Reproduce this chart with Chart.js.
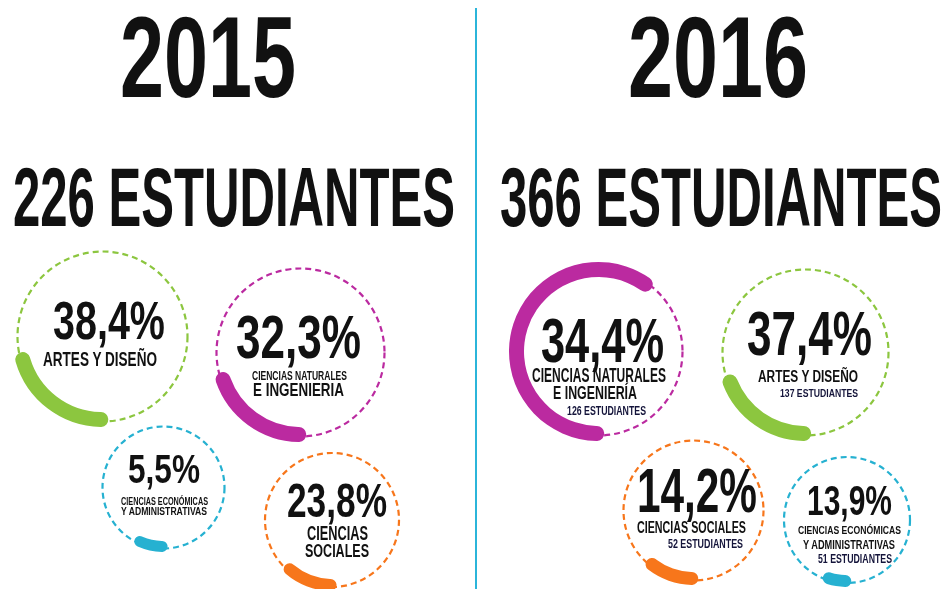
<!DOCTYPE html>
<html lang="es">
<head>
  <meta charset="UTF-8">
  <title>Estudiantes 2015 - 2016</title>
  <script src="https://cdn.jsdelivr.net/npm/chart.js"></script>
  <style>
    html, body { margin: 0; padding: 0; background: #fff; }
    #stage { position: relative; width: 948px; height: 589px; overflow: hidden; }
    .txt { position: absolute; white-space: nowrap; font-family: "Liberation Sans", Arial, sans-serif; font-weight: bold; color: #111; transform-origin: 0 0; }
    .ring { position: absolute; }
    #divider { position: absolute; left: 475px; top: 8px; width: 2px; height: 581px; background: #2bb5da; }
  </style>
</head>
<body>
<div id="stage"><div id="divider"></div></div>

<script>
  const years = ['2015', '2016'];
  const totalStudents = [226, 366];

  const areas2015 = [['ARTES Y DISEÑO'], ['CIENCIAS NATURALES', 'E INGENIERIA'], ['CIENCIAS ECONÓMICAS', 'Y ADMINISTRATIVAS'], ['CIENCIAS', 'SOCIALES']];
  const pct2015 = [38.4, 32.3, 5.5, 23.8];
  const arcDeg2015 = [83, 80, 33, 50];   // length of the drawn arc, degrees

  const areas2016 = [['CIENCIAS NATURALES', 'E INGENIERÍA'], ['ARTES Y DISEÑO'], ['CIENCIAS SOCIALES'], ['CIENCIAS ECONÓMICAS', 'Y ADMINISTRATIVAS']];
  const pct2016 = [34.4, 37.4, 14.2, 13.9];
  const students2016 = [126, 137, 52, 51];
  const arcDeg2016 = [224, 78, 47, 27];

  // layout (positions / sizes / colours)
  const GREEN = '#8cc63f', MAGENTA = '#bb2aa0', CYAN = '#26b1d1', ORANGE = '#f7761b';
  const headLayout = [
    { year: { cx: 208, top: 18, h: 80, w: 176 }, total: { cx: 234, top: 168, h: 59, w: 442 } },
    { year: { cx: 718, top: 18, h: 80, w: 180 }, total: { cx: 721, top: 168, h: 59, w: 442 } }
  ];
  const ringLayout2015 = [
    { cx: 102, cy: 336, r: 85, t: 15, color: GREEN,
      pct: { cx: 109, top: 302, h: 38, w: 112 },
      lines: [{ cx: 100, top: 352, h: 14, w: 114 }] },
    { cx: 300, cy: 352, r: 84, t: 15, color: MAGENTA,
      pct: { cx: 298, top: 315, h: 43, w: 125 },
      lines: [{ cx: 299, top: 372, h: 8.5, w: 95 }, { cx: 298, top: 384, h: 13, w: 91 }] },
    { cx: 163, cy: 487, r: 61, t: 11, color: CYAN,
      pct: { cx: 164, top: 455, h: 29, w: 72 },
      lines: [{ cx: 164, top: 498, h: 7, w: 87 }, { cx: 164, top: 508, h: 8, w: 86 }] },
    { cx: 332, cy: 520, r: 67, t: 12, color: ORANGE,
      pct: { cx: 337, top: 483, h: 34, w: 100 },
      lines: [{ cx: 337, top: 526, h: 14, w: 61 }, { cx: 337, top: 545, h: 13, w: 64 }] }
  ];
  const ringLayout2016 = [
    { cx: 598, cy: 351, r: 84, t: 15, color: MAGENTA,
      pct: { cx: 602, top: 318, h: 44, w: 123 },
      lines: [{ cx: 599, top: 368, h: 14, w: 134 }, { cx: 595, top: 387, h: 13, w: 84 }],
      count: { cx: 606, top: 407, h: 9, w: 79 } },
    { cx: 805, cy: 352, r: 83, t: 15, color: GREEN,
      pct: { cx: 809, top: 311, h: 44, w: 125 },
      lines: [{ cx: 808, top: 371, h: 12, w: 100 }],
      count: { cx: 819, top: 390, h: 8, w: 78 } },
    { cx: 693, cy: 510, r: 70, t: 13, color: ORANGE,
      pct: { cx: 697, top: 468, h: 44, w: 120 },
      lines: [{ cx: 691, top: 522, h: 11, w: 109 }],
      count: { cx: 705, top: 540, h: 9, w: 75 } },
    { cx: 847, cy: 520, r: 63, t: 12, color: CYAN,
      pct: { cx: 849, top: 485, h: 30, w: 85 },
      lines: [{ cx: 849, top: 527, h: 8, w: 103 }, { cx: 849, top: 541, h: 9, w: 92 }],
      count: { cx: 855, top: 555, h: 9, w: 74 } }
  ];

  const stage = document.getElementById('stage');

  // font metrics, used to put the cap line of each text where it is in the picture
  const probe = document.createElement('canvas').getContext('2d');
  probe.font = 'bold 100px "Liberation Sans"';
  const mH = probe.measureText('H');
  const CAP = mH.actualBoundingBoxAscent / 100;
  const ASC = mH.fontBoundingBoxAscent / 100;
  const DESC = mH.fontBoundingBoxDescent / 100;

  function putText(str, box, color) {
    const size = box.h / CAP;
    const baseline = box.top + box.h;
    const el = document.createElement('div');
    el.className = 'txt';
    el.textContent = str;
    el.style.fontSize = size + 'px';
    el.style.lineHeight = size + 'px';
    el.style.top = (baseline - size * ((1 - ASC - DESC) / 2 + ASC)) + 'px';
    el.style.left = (box.cx - box.w / 2) + 'px';
    if (color) el.style.color = color;
    stage.appendChild(el);
    const natural = el.getBoundingClientRect().width;
    el.style.transform = 'scaleX(' + (box.w / natural) + ')';
  }

  const fmt = v => v.toFixed(1).replace('.', ',') + '%';

  // dashed full circle under each arc
  const dashRing = {
    id: 'dashRing',
    beforeDatasetsDraw(chart, args, opts) {
      const arc = chart.getDatasetMeta(0).data[0];
      const ctx = chart.ctx;
      ctx.save();
      ctx.strokeStyle = opts.color;
      ctx.lineWidth = 2.2;
      ctx.setLineDash([6, 4]);
      ctx.beginPath();
      ctx.arc(arc.x, arc.y, opts.radius, 0, Math.PI * 2);
      ctx.stroke();
      ctx.restore();
    }
  };

  function drawRing(lay, arcDeg) {
    const size = Math.round(2 * (lay.r + lay.t / 2 + 4));
    const holder = document.createElement('div');
    holder.className = 'ring';
    holder.style.left = (lay.cx - size / 2) + 'px';
    holder.style.top = (lay.cy - size / 2) + 'px';
    const canvas = document.createElement('canvas');
    canvas.width = size;
    canvas.height = size;
    holder.appendChild(canvas);
    stage.appendChild(holder);

    const arcR = lay.r - 2;          // stroke runs a touch inside the dashed line
    new Chart(canvas.getContext('2d'), {
      type: 'doughnut',
      data: {
        datasets: [{
          data: [arcDeg, 360 - arcDeg],
          backgroundColor: [lay.color, 'rgba(0,0,0,0)'],
          borderWidth: 0,
          hoverBorderWidth: 0,
          hoverOffset: 0,
          offset: 0,
          borderRadius: lay.t / 2
        }]
      },
      options: {
        responsive: false,
        animation: false,
        events: [],
        rotation: 176,
        cutout: arcR - lay.t / 2,
        layout: { padding: size / 2 - (arcR + lay.t / 2) },
        plugins: {
          legend: { display: false },
          tooltip: { enabled: false },
          dashRing: { color: lay.color, radius: lay.r }
        }
      },
      plugins: [dashRing]
    });
  }

  // headings
  putText(years[0], headLayout[0].year);
  putText(totalStudents[0] + ' ESTUDIANTES', headLayout[0].total);
  putText(years[1], headLayout[1].year);
  putText(totalStudents[1] + ' ESTUDIANTES', headLayout[1].total);

  // 2015 rings
  ringLayout2015.forEach((lay, i) => {
    drawRing(lay, arcDeg2015[i]);
    putText(fmt(pct2015[i]), lay.pct);
    areas2015[i].forEach((line, j) => putText(line, lay.lines[j]));
  });

  // 2016 rings
  ringLayout2016.forEach((lay, i) => {
    drawRing(lay, arcDeg2016[i]);
    putText(fmt(pct2016[i]), lay.pct);
    areas2016[i].forEach((line, j) => putText(line, lay.lines[j]));
    putText(students2016[i] + ' ESTUDIANTES', lay.count, '#14143a');
  });
</script>
</body>
</html>
